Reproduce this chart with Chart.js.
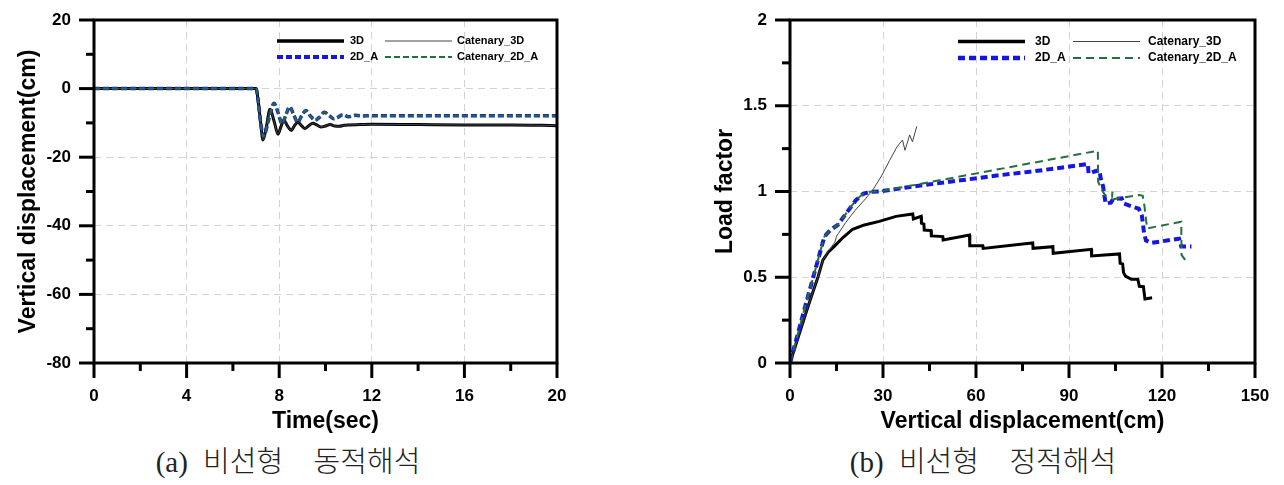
<!DOCTYPE html>
<html>
<head>
<meta charset="utf-8">
<script src="https://cdn.jsdelivr.net/npm/chart.js@4.4.1/dist/chart.umd.min.js"></script>
<style>
  body { margin: 0; background: #fff; width: 1284px; height: 485px; overflow: hidden; position: relative; }
  #dynChart { position: absolute; left: 0; top: 0; }
  #staticChart { position: absolute; left: 640px; top: 0; }
  .cap { position: absolute; top: 444px; width: 400px; text-align: center; white-space: pre;
         font-family: "Liberation Serif", "Noto Sans CJK KR", serif; font-size: 29px; font-weight: 300;
         word-spacing: 8px; color: #222; line-height: 36px; }
</style>
</head>
<body>
<canvas id="dynChart" width="640" height="440"></canvas>
<canvas id="staticChart" width="644" height="440"></canvas>
<div class="cap" style="left:88px">(a) 비선형  동적해석</div>
<div class="cap" style="left:783px">(b) 비선형  정적해석</div>

<script>
// series names
const seriesNames = ['3D', 'Catenary_3D', '2D_A', 'Catenary_2D_A'];

// (a) nonlinear dynamic analysis : time (sec) vs vertical displacement (cm)
const dyn3D_t = [0, 7.0, 7.1, 7.2, 7.3, 7.45, 7.6, 7.78, 7.95, 8.08, 8.2, 8.35, 8.52, 8.66, 8.8, 8.95, 9.1, 9.28, 9.45, 9.62, 9.8, 10.0, 10.2, 10.4, 10.6, 10.8, 11.0, 11.5, 12, 14, 16, 18, 20];
const dyn3D_v = [0, 0, -4, -10, -15, -11, -6, -9.5, -13.3, -11, -9.2, -10.8, -12.2, -10.8, -9.8, -10.7, -11.6, -10.8, -10.1, -10.6, -11.2, -10.9, -10.5, -10.9, -11.0, -10.7, -10.6, -10.5, -10.4, -10.5, -10.6, -10.6, -10.8];
const dyn2D_t = [0, 7.0, 7.1, 7.2, 7.32, 7.55, 7.78, 7.95, 8.12, 8.3, 8.45, 8.62, 8.8, 8.98, 9.15, 9.35, 9.55, 9.75, 9.95, 10.15, 10.35, 10.55, 10.75, 11.0, 11.3, 11.6, 12, 14, 16, 18, 20];
const dyn2D_v = [0, 0, -4, -10, -14, -9, -4.3, -7, -10.2, -7.5, -5.3, -7.5, -9.8, -7.8, -6.4, -8, -9.2, -8.3, -6.9, -7.8, -8.8, -8.3, -7.6, -8.2, -7.8, -8, -7.9, -7.9, -7.9, -7.9, -7.9];
// catenary curves coincide with the plain ones in the dynamic case
const dynCat3D_t = dyn3D_t, dynCat3D_v = dyn3D_v;
const dynCat2D_t = dyn2D_t, dynCat2D_v = dyn2D_v;

// (b) nonlinear static analysis : vertical displacement (cm) vs load factor
const st3D_x = [0, 3, 6, 9, 10.6, 12.5, 14.3, 17, 20.2, 24, 28.8, 34.2, 39.6, 39.8, 42.3, 42.4, 43.2, 43.3, 45.5, 45.6, 49.3, 49.4, 57.9, 58.0, 62.2, 62.3, 77.3, 78.3, 78.4, 84.8, 84.9, 97.2, 97.3, 106.3, 106.5, 107.3, 107.6, 108.2, 110.1, 112.2, 112.7, 114.0, 114.5, 116.8];
const st3D_y = [0, 0.17, 0.34, 0.5, 0.6, 0.65, 0.68, 0.73, 0.78, 0.805, 0.826, 0.855, 0.869, 0.84, 0.855, 0.815, 0.81, 0.775, 0.772, 0.741, 0.737, 0.717, 0.746, 0.684, 0.684, 0.668, 0.698, 0.70, 0.669, 0.678, 0.64, 0.663, 0.624, 0.636, 0.581, 0.578, 0.527, 0.507, 0.488, 0.488, 0.447, 0.445, 0.373, 0.381];
const stCat3D_x = [0, 3, 6, 9, 10.6, 12.5, 14.5, 15.0, 15.6, 18, 21, 24, 26.7, 29.5, 32.1, 34.5, 36.3, 37.1, 38.6, 39.5, 40.9];
const stCat3D_y = [0, 0.17, 0.34, 0.5, 0.6, 0.655, 0.705, 0.74, 0.755, 0.82, 0.89, 0.95, 1.009, 1.09, 1.18, 1.26, 1.30, 1.24, 1.33, 1.29, 1.38];
const st2D_x = [0, 5.5, 11.1, 13, 15.4, 18, 21.3, 23.5, 25.6, 28.9, 40, 55, 67.6, 77.3, 88, 96.1, 96.3, 99.8, 100.2, 101, 101.8, 103.5, 104.2, 107, 107.6, 110, 112.5, 113.5, 114.2, 114.8, 116.5, 125.5, 126.2, 129.5];
const st2D_y = [0, 0.37, 0.737, 0.775, 0.805, 0.87, 0.95, 0.985, 0.998, 1.0, 1.03, 1.065, 1.095, 1.115, 1.14, 1.16, 1.106, 1.125, 1.08, 1.03, 0.93, 0.935, 0.955, 0.96, 0.93, 0.915, 0.9, 0.86, 0.76, 0.715, 0.70, 0.725, 0.68, 0.68];
const stCat2D_x = [0, 5.5, 11.1, 13, 15.4, 18, 21.3, 23.5, 25.6, 28.9, 99.3, 99.4, 100.5, 102, 103.9, 104.0, 104.2, 112.7, 113.8, 114.3, 115.2, 126.2, 126.3, 128.3];
const stCat2D_y = [0, 0.37, 0.737, 0.775, 0.805, 0.87, 0.95, 0.985, 0.998, 1.0, 1.238, 1.057, 1.01, 0.97, 0.97, 1.0, 0.955, 0.98, 0.975, 0.92, 0.785, 0.824, 0.63, 0.581];

function pts(xs, ys) {
  return xs.map((x, i) => ({ x: x, y: ys[i] }));
}

Chart.defaults.font.family = '"Liberation Sans", Arial, sans-serif';
Chart.defaults.color = '#000';

// frame box + major/minor ticks outside the plot
const frameTicks = {
  id: 'frameTicks',
  afterDraw(chart) {
    const { ctx, chartArea: a, scales } = chart;
    const o = chart.options.plugins.frameTicks;
    ctx.save();
    ctx.strokeStyle = '#000';
    ctx.lineWidth = 3;
    ['x', 'y'].forEach(id => {
      const s = scales[id];
      const step = o[id];
      const major = s.options.ticks.stepSize;
      const n = Math.round((s.max - s.min) / step);
      for (let i = 0; i <= n; i++) {
        const v = s.min + i * step;
        const r = (v - s.min) / major;
        const len = Math.abs(r - Math.round(r)) < 1e-6 ? 15 : 8;
        const p = s.getPixelForValue(v);
        ctx.beginPath();
        if (id === 'x') { ctx.moveTo(p, a.bottom); ctx.lineTo(p, a.bottom + len); }
        else { ctx.moveTo(a.left, p); ctx.lineTo(a.left - len, p); }
        ctx.stroke();
      }
    });
    ctx.strokeRect(a.left, a.top, a.right - a.left, a.bottom - a.top);
    ctx.restore();
  }
};

// two-column legend inside the plot, top right
const boxLegend = {
  id: 'boxLegend',
  afterDraw(chart) {
    const { ctx, chartArea: a } = chart;
    const o = chart.options.plugins.boxLegend;
    ctx.save();
    ctx.font = 'bold ' + o.size + 'px "Liberation Sans", Arial, sans-serif';
    ctx.textBaseline = 'middle';
    ctx.fillStyle = '#000';
    chart.data.datasets.forEach((ds, i) => {
      const col = i % 2, row = Math.floor(i / 2);
      const x0 = a.right + o.x + col * o.col;
      const y0 = a.top + o.y + row * o.row;
      ctx.strokeStyle = ds.borderColor;
      ctx.lineWidth = ds.borderWidth + (ds.borderWidth > 2 ? 0.5 : 0);
      ctx.setLineDash(ds.borderDash || []);
      ctx.beginPath();
      ctx.moveTo(x0, y0);
      ctx.lineTo(x0 + o.len, y0);
      ctx.stroke();
      ctx.setLineDash([]);
      ctx.fillText(ds.label, x0 + o.len + o.gap[col], y0);
    });
    ctx.restore();
  }
};

function gridOpts() {
  return { color: '#d2d2d2', lineWidth: 1, drawTicks: false };
}

function makeScales(xo, yo) {
  const tickFont = { size: 17, weight: 'bold' };
  const titleFont = { size: 23, weight: 'bold' };
  return {
    x: {
      type: 'linear', min: xo.min, max: xo.max,
      ticks: { stepSize: xo.step, padding: 23, font: tickFont, callback: v => String(v) },
      grid: gridOpts(),
      border: { display: false, dash: [7, 5] },
      title: { display: true, text: xo.title, font: titleFont, padding: { bottom: 5 } },
      afterFit: s => { s.height = 77; s.paddingLeft = 0; s.paddingRight = 0; }
    },
    y: {
      type: 'linear', min: yo.min, max: yo.max,
      ticks: { stepSize: yo.step, padding: 23, font: tickFont, callback: v => String(v) },
      grid: gridOpts(),
      border: { display: false, dash: [7, 5] },
      title: { display: true, text: yo.title, font: titleFont, padding: { top: yo.titlePad } },
      afterFit: s => { s.width = yo.width; s.paddingTop = 0; s.paddingBottom = 0; }
    }
  };
}

// (a) dynamic
new Chart(document.getElementById('dynChart'), {
  type: 'line',
  data: {
    datasets: [
      { label: seriesNames[0], data: pts(dyn3D_t, dyn3D_v), borderColor: '#000', borderWidth: 3, order: 3 },
      { label: seriesNames[1], data: pts(dynCat3D_t, dynCat3D_v), borderColor: '#444', borderWidth: 1, order: 2 },
      { label: seriesNames[2], data: pts(dyn2D_t, dyn2D_v), borderColor: '#1616e0', borderWidth: 3.5, borderDash: [6, 3], order: 1 },
      { label: seriesNames[3], data: pts(dynCat2D_t, dynCat2D_v), borderColor: '#23703c', borderWidth: 2, borderDash: [6, 3], order: 0 }
    ]
  },
  options: {
    responsive: false,
    animation: false,
    layout: { padding: { top: 20, right: 83, left: 0, bottom: 0 } },
    elements: { point: { radius: 0 }, line: { cubicInterpolationMode: 'monotone' } },
    scales: makeScales(
      { min: 0, max: 20, step: 4, title: 'Time(sec)' },
      { min: -80, max: 20, step: 20, title: 'Vertical displacement(cm)', titlePad: 15, width: 94 }
    ),
    plugins: {
      legend: { display: false },
      tooltip: { enabled: false },
      frameTicks: { x: 2, y: 10 },
      boxLegend: { x: -280, y: 21, row: 16, col: 108, len: 67, gap: [6, 5], size: 11 }
    }
  },
  plugins: [frameTicks, boxLegend]
});

// (b) static
new Chart(document.getElementById('staticChart'), {
  type: 'line',
  data: {
    datasets: [
      { label: seriesNames[0], data: pts(st3D_x, st3D_y), borderColor: '#000', borderWidth: 3, order: 3 },
      { label: seriesNames[1], data: pts(stCat3D_x, stCat3D_y), borderColor: '#444', borderWidth: 1, order: 2 },
      { label: seriesNames[2], data: pts(st2D_x, st2D_y), borderColor: '#1616e0', borderWidth: 4, borderDash: [7, 4], order: 1 },
      { label: seriesNames[3], data: pts(stCat2D_x, stCat2D_y), borderColor: '#23703c', borderWidth: 2, borderDash: [8, 5], order: 0 }
    ]
  },
  options: {
    responsive: false,
    animation: false,
    layout: { padding: { top: 20, right: 29, left: 0, bottom: 0 } },
    elements: { point: { radius: 0 }, line: { tension: 0 } },
    scales: makeScales(
      { min: 0, max: 150, step: 30, title: 'Vertical displacement(cm)' },
      { min: 0, max: 2, step: 0.5, title: 'Load factor', titlePad: 72, width: 150 }
    ),
    plugins: {
      legend: { display: false },
      tooltip: { enabled: false },
      frameTicks: { x: 15, y: 0.25 },
      boxLegend: { x: -297, y: 21.5, row: 16.5, col: 115, len: 67, gap: [10, 8], size: 12 }
    }
  },
  plugins: [frameTicks, boxLegend]
});
</script>
</body>
</html>
